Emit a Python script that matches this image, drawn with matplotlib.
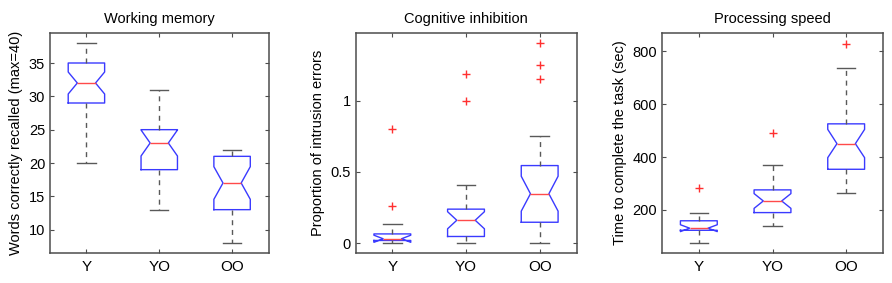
import numpy as np
import matplotlib
matplotlib.use("Agg")
import matplotlib.pyplot as plt

plt.rcParams['font.family'] = ['Liberation Sans', 'DejaVu Sans']

groups = ['Y', 'YO', 'OO']

# working memory (words recalled)
wm_lo   = [20, 13, 8]
wm_q1   = [29, 19, 13]
wm_med  = [32, 23, 17]
wm_q3   = [35, 25, 21]
wm_hi   = [38, 31, 22]
wm_cilo = [30.35, 21.05, 14.55]
wm_cihi = [33.65, 24.95, 19.45]
wm_out  = [[], [], []]

# cognitive inhibition (proportion of intrusion errors)
ci_lo   = [0.0, 0.0, 0.0]
ci_q1   = [0.018, 0.046, 0.146]
ci_med  = [0.03, 0.16, 0.346]
ci_q3   = [0.064, 0.238, 0.544]
ci_hi   = [0.137, 0.41, 0.753]
ci_cilo = [0.005, 0.10, 0.224]
ci_cihi = [0.055, 0.22, 0.469]
ci_out  = [[0.26, 0.80], [1.0, 1.19], [1.155, 1.25, 1.405]]

# processing speed (sec)
ps_lo   = [76, 139, 266]
ps_q1   = [123, 190, 354]
ps_med  = [131, 234, 451]
ps_q3   = [159, 276, 526]
ps_hi   = [190, 372, 739]
ps_cilo = [118, 206, 398]
ps_cihi = [144, 262, 505]
ps_out  = [[285], [490], [830]]


def make_stats(lo, q1, med, q3, hi, cilo, cihi, out):
    stats = []
    for i in range(len(groups)):
        stats.append(dict(whislo=lo[i], q1=q1[i], med=med[i], q3=q3[i],
                          whishi=hi[i], cilo=cilo[i], cihi=cihi[i],
                          fliers=np.array(out[i]), label=groups[i]))
    return stats


panels = [
    ("Working memory", "Words correctly recalled (max=40)",
     make_stats(wm_lo, wm_q1, wm_med, wm_q3, wm_hi, wm_cilo, wm_cihi, wm_out),
     (6.5, 39.5), [10, 15, 20, 25, 30, 35], ["10", "15", "20", "25", "30", "35"]),
    ("Cognitive inhibition", "Proportion of intrusion errors",
     make_stats(ci_lo, ci_q1, ci_med, ci_q3, ci_hi, ci_cilo, ci_cihi, ci_out),
     (-0.07, 1.475), [0, 0.5, 1], ["0", "0.5", "1"]),
    ("Processing speed", "Time to complete the task (sec)",
     make_stats(ps_lo, ps_q1, ps_med, ps_q3, ps_hi, ps_cilo, ps_cihi, ps_out),
     (37, 870), [200, 400, 600, 800], ["200", "400", "600", "800"]),
]

fig = plt.figure(figsize=(8.92, 2.83), dpi=100)
lefts = [50, 355.5, 662]
widths_px = [218.5, 221, 221]

for k, (title, ylabel, stats, ylim, yt, ytl) in enumerate(panels):
    ax = fig.add_axes([lefts[k] / 892, 1 - 253 / 283,
                       widths_px[k] / 892, 220 / 283])
    ax.bxp(stats, positions=[1, 2, 3], widths=0.5, shownotches=True,
           boxprops=dict(color='#3a3aff', linewidth=1.0),
           medianprops=dict(color='#ff4a4a', linewidth=1.0),
           whiskerprops=dict(color='0.35', linewidth=1.0,
                             linestyle=(0, (3.6, 3.4))),
           capprops=dict(color='0.35', linewidth=1.0),
           flierprops=dict(marker='+', markeredgecolor='#ff3030',
                           markersize=6, linestyle='none'))
    ax.set_xlim(0.5, 3.5)
    ax.set_ylim(*ylim)
    ax.set_yticks(yt)
    ax.set_yticklabels(ytl)
    ax.set_xticks([1, 2, 3])
    ax.set_xticklabels(groups)
    ax.set_title(title, fontsize=10.5, pad=7)
    ax.set_ylabel(ylabel, fontsize=10.5)
    ax.tick_params(direction='in', length=3, top=True, right=True,
                   labelsize=10.5, color='0.3')
    ax.tick_params(axis='x', labelsize=11, pad=5)
    for s in ax.spines.values():
        s.set_color('0.3')
        s.set_linewidth(1.1)

fig.savefig("out.png", dpi=100)
